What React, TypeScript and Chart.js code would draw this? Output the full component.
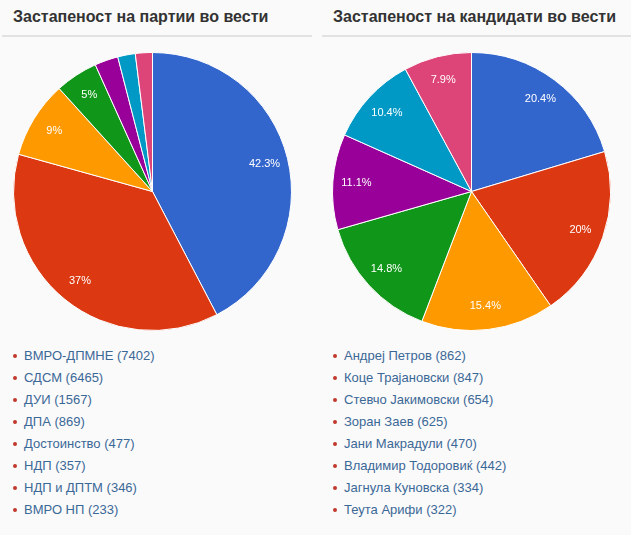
import React, { useEffect, useRef } from "react";
import { Chart, registerables } from "chart.js";

Chart.register(...registerables);

const partyTitle = "Застапеност на партии во вести";
const partyNames = ["ВМРО-ДПМНЕ", "СДСМ", "ДУИ", "ДПА", "Достоинство", "НДП", "НДП и ДПТМ", "ВМРО НП"];
const partyCounts = [7402, 6465, 1567, 869, 477, 357, 346, 233];

const candTitle = "Застапеност на кандидати во вести";
const candNames = ["Андреј Петров", "Коце Трајановски", "Стевчо Јакимовски", "Зоран Заев", "Јани Макрадули", "Владимир Тодоровиќ", "Јагнула Куновска", "Теута Арифи"];
const candCounts = [862, 847, 654, 625, 470, 442, 334, 322];

// the pies show the first seven entries
const pieSliceCount = 7;
const palette = ["#3366cc", "#dc3912", "#ff9900", "#109618", "#990099", "#0099c6", "#dd4477"];

const sliceLabelPlugin = {
  id: "sliceLabels",
  afterDatasetsDraw(chart: any) {
    const ctx = chart.ctx;
    const meta = chart.getDatasetMeta(0);
    const data = chart.data.datasets[0].data as number[];
    const total = data.reduce((a, b) => a + b, 0);
    ctx.save();
    ctx.fillStyle = "#ffffff";
    ctx.font = "11px Arial, 'Liberation Sans', sans-serif";
    ctx.textAlign = "center";
    ctx.textBaseline = "middle";
    meta.data.forEach((arc: any, i: number) => {
      const pct = (data[i] / total) * 100;
      if (pct < 4) return;
      const mid = (arc.startAngle + arc.endAngle) / 2;
      const r = arc.outerRadius * 0.83;
      const x = arc.x + Math.cos(mid) * r;
      const y = arc.y + Math.sin(mid) * r;
      const txt = String(Math.round(pct * 10) / 10) + "%";
      ctx.fillText(txt, x, y);
    });
    ctx.restore();
  },
};

function Pie({ values, left }: { values: number[]; left: number }) {
  const ref = useRef<HTMLCanvasElement>(null);
  useEffect(() => {
    const chart = new Chart(ref.current!, {
      type: "pie",
      data: {
        labels: values.map((_, i) => String(i)),
        datasets: [
          {
            data: values,
            backgroundColor: palette,
            borderColor: "#ffffff",
            borderWidth: 1,
            hoverOffset: 0,
          },
        ],
      },
      options: {
        responsive: false,
        animation: false,
        plugins: { legend: { display: false }, tooltip: { enabled: false } },
        layout: { padding: 0 },
      },
      plugins: [sliceLabelPlugin],
    });
    return () => chart.destroy();
  }, [values]);
  return (
    <canvas
      ref={ref}
      width={279}
      height={279}
      style={{ position: "absolute", left, top: 52, width: 279, height: 279 }}
    />
  );
}

function Column({ title, names, counts, x, lineLeft, lineRight, pieLeft }: any) {
  return (
    <>
      <div
        style={{
          position: "absolute",
          left: x,
          top: 6,
          font: "bold 16px Arial, 'Liberation Sans', sans-serif",
          color: "#333333",
          lineHeight: "22px",
          whiteSpace: "nowrap",
        }}
      >
        {title}
      </div>
      <div
        style={{
          position: "absolute",
          left: lineLeft,
          width: lineRight - lineLeft,
          top: 35,
          height: 2,
          background: "#e2e2e2",
        }}
      />
      <Pie values={counts.slice(0, pieSliceCount)} left={pieLeft} />
      {names.map((n: string, i: number) => (
        <div
          key={n}
          style={{
            position: "absolute",
            left: x,
            top: 348 + i * 22,
            height: 22,
            lineHeight: "22px",
            font: "13px Arial, 'Liberation Sans', sans-serif",
            color: "#3a6897",
            whiteSpace: "nowrap",
          }}
        >
          <span
            style={{
              display: "inline-block",
              width: 4,
              height: 4,
              borderRadius: 2,
              background: "#c0392b",
              verticalAlign: "middle",
              marginRight: 7,
              position: "relative",
              top: -1,
            }}
          />
          {n} ({counts[i]})
        </div>
      ))}
    </>
  );
}

export default function App() {
  return (
    <div
      style={{
        position: "fixed",
        left: 0,
        top: 0,
        width: 631,
        height: 535,
        background: "#fafafa",
        overflow: "hidden",
      }}
    >
      <Column title={partyTitle} names={partyNames} counts={partyCounts} x={13} lineLeft={2} lineRight={312} pieLeft={13} />
      <Column title={candTitle} names={candNames} counts={candCounts} x={333} lineLeft={322} lineRight={631} pieLeft={332} />
    </div>
  );
}
